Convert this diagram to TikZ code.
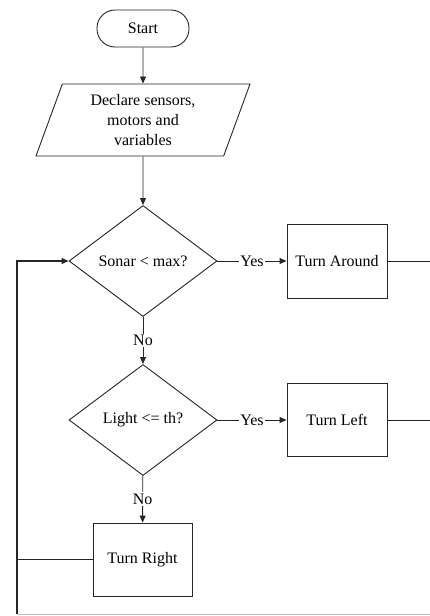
\documentclass[tikz,border=0pt]{standalone}
\usepackage{fontspec}
\setmainfont{Liberation Serif}
\usetikzlibrary{shapes.geometric,arrows.meta}
\begin{document}
\begin{tikzpicture}[x=1pt,y=-1pt,
  every node/.style={font=\fontsize{16}{20}\selectfont},
  line/.style={draw=black!85,line width=0.9pt},
  arr/.style={line,-{Triangle[length=7pt,width=6pt]}},
  terminal/.style={line,rectangle,rounded corners=18pt,minimum width=92pt,minimum height=37pt,inner sep=0pt},
  iobox/.style={line,trapezium,trapezium left angle=62.8,trapezium right angle=117.2,
    trapezium stretches body,minimum width=214pt,minimum height=72pt,align=center,inner sep=0pt},
  decision/.style={line,diamond,minimum width=148pt,minimum height=111pt,inner sep=0pt},
  process/.style={line,rectangle,minimum width=100pt,minimum height=74pt,inner sep=0pt},
  lbl/.style={fill=white,inner sep=1.5pt}]
\useasboundingbox (0,0) rectangle (430,616);

% flowchart nodes
\node[terminal] (start) at (143,28.5) {Start};
\node[iobox] (decl) at (143,120) {Declare sensors,\\motors and\\variables};
\node[decision] (sonar) at (143,261) {Sonar {\fontspec{Liberation Serif}<} max?};
\node[process] (around) at (337,261) {Turn Around};
\node[decision] (light) at (143,420) {Light {\fontspec{Liberation Serif}<}= th?};
\node[process,minimum height=73pt] (left) at (337,420) {Turn Left};
\node[process,minimum width=99pt,minimum height=73pt] (right) at (142.5,559.5) {Turn Right};

% loop corners and exits at the frame edge
\coordinate (edge) at (430,614);
\coordinate (corner) at (17,614);

% main flow
\draw[arr] (start) -- (decl);
\draw[arr] (decl) -- (sonar);
\draw[arr] (sonar) -- node[lbl] {Yes} (around);
\draw[arr] (sonar) -- node[lbl] {No} (light);
\draw[arr] (light) -- node[lbl] {Yes} (left);
\draw[arr] (light) -- node[lbl] {No} (right);

% outgoing lines to the right
\draw[line] (around.east) -- (around.east -| edge);
\draw[line] (left.east) -- (left.east -| edge);

% return loop
\draw[line,draw=black!25] (edge) -- (corner);
\draw[line] (right.west) -- (right.west -| corner);
\draw[line,line width=1.5pt,-{Triangle[length=7pt,width=6pt]}] (corner) |- (sonar.west);
\end{tikzpicture}
\end{document}
